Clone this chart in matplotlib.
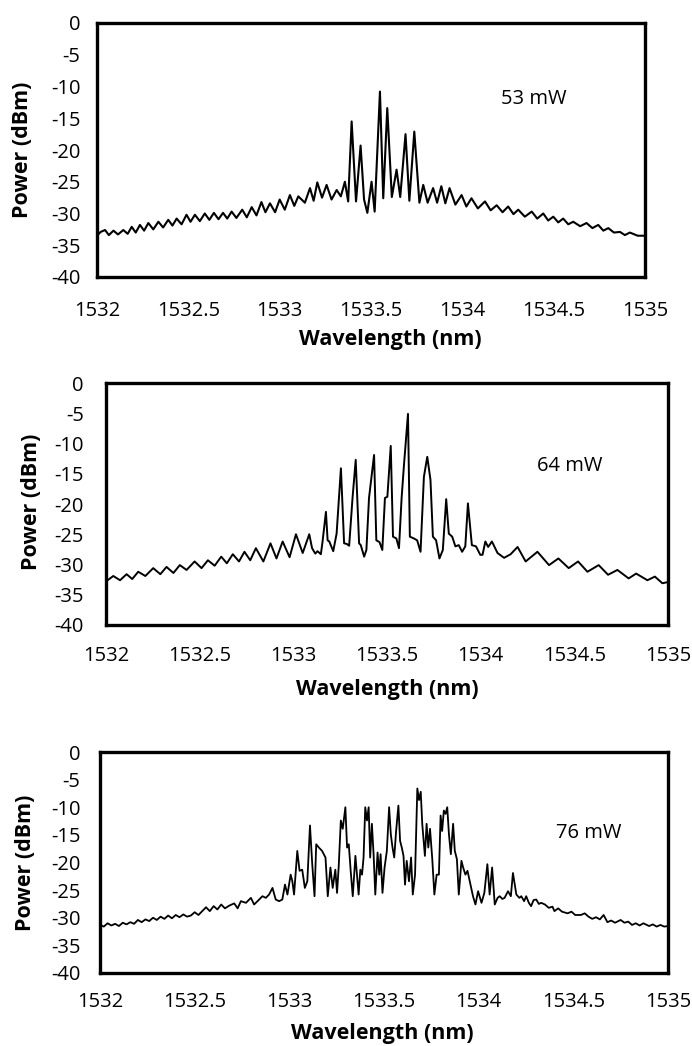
import matplotlib
matplotlib.use("Agg")
import matplotlib.pyplot as plt
from matplotlib.ticker import FixedLocator, FuncFormatter

plt.rcParams['font.family'] = ['Open Sans', 'DejaVu Sans']
plt.rcParams['axes.unicode_minus'] = False

# ---- 53 mW spectrum ----
wl_53 = [1532.000, 1532.020, 1532.044, 1532.065, 1532.090, 1532.115, 1532.144, 1532.168,
         1532.190, 1532.212, 1532.235, 1532.258, 1532.281, 1532.308, 1532.336, 1532.362,
         1532.390, 1532.413, 1532.436, 1532.463, 1532.490, 1532.512, 1532.536, 1532.563,
         1532.590, 1532.615, 1532.640, 1532.665, 1532.690, 1532.713, 1532.737, 1532.763,
         1532.795, 1532.820, 1532.847, 1532.873, 1532.900, 1532.922, 1532.947, 1532.975,
         1533.000, 1533.028, 1533.056, 1533.080, 1533.102, 1533.138, 1533.166, 1533.186,
         1533.206, 1533.232, 1533.257, 1533.284, 1533.312, 1533.335, 1533.357, 1533.375,
         1533.394, 1533.418, 1533.443, 1533.462, 1533.480, 1533.503, 1533.520, 1533.549,
         1533.567, 1533.589, 1533.614, 1533.640, 1533.660, 1533.689, 1533.710, 1533.737,
         1533.765, 1533.786, 1533.810, 1533.840, 1533.862, 1533.885, 1533.907, 1533.930,
         1533.962, 1533.996, 1534.022, 1534.050, 1534.085, 1534.124, 1534.155, 1534.188,
         1534.220, 1534.251, 1534.280, 1534.306, 1534.342, 1534.380, 1534.410, 1534.443,
         1534.470, 1534.498, 1534.525, 1534.552, 1534.580, 1534.607, 1534.645, 1534.680,
         1534.712, 1534.744, 1534.772, 1534.799, 1534.830, 1534.863, 1534.890, 1534.917,
         1534.960, 1535.000]
p_53 = [-33.5, -32.9, -32.6, -33.4, -32.7, -33.3, -32.6, -33.2,
        -32.1, -33.0, -31.8, -32.7, -31.5, -32.5, -31.3, -32.2,
        -31.0, -31.9, -30.8, -31.7, -30.2, -31.3, -30.2, -31.2,
        -30.0, -31.0, -29.9, -30.9, -29.9, -30.8, -29.7, -30.7,
        -29.4, -30.6, -29.0, -30.3, -28.2, -29.8, -28.4, -29.8,
        -27.8, -29.4, -27.1, -28.8, -27.3, -28.3, -26.0, -28.0,
        -25.1, -27.5, -25.5, -27.8, -26.3, -27.3, -25.0, -28.1,
        -15.5, -28.1, -19.3, -27.8, -29.9, -25.0, -29.7, -10.8,
        -27.6, -13.4, -27.4, -23.1, -27.4, -17.5, -28.0, -17.1,
        -28.3, -25.5, -28.3, -26.0, -28.3, -25.7, -28.4, -26.0,
        -28.6, -27.1, -28.9, -27.6, -29.2, -28.1, -29.5, -28.7,
        -29.8, -28.9, -30.1, -29.4, -30.5, -29.7, -30.8, -30.0,
        -31.1, -30.5, -31.4, -30.8, -31.7, -31.3, -32.0, -31.5,
        -32.3, -31.8, -32.7, -32.3, -33.0, -32.9, -33.4, -33.0,
        -33.5, -33.5]

# ---- 64 mW spectrum ----
wl_64 = [1532.000, 1532.039, 1532.075, 1532.110, 1532.140, 1532.172, 1532.210, 1532.252,
         1532.290, 1532.323, 1532.360, 1532.394, 1532.430, 1532.473, 1532.510, 1532.544,
         1532.580, 1532.615, 1532.645, 1532.677, 1532.710, 1532.739, 1532.770, 1532.800,
         1532.840, 1532.878, 1532.910, 1532.943, 1532.980, 1533.014, 1533.050, 1533.085,
         1533.100, 1533.117, 1533.129, 1533.147, 1533.156, 1533.174, 1533.183, 1533.192,
         1533.213, 1533.231, 1533.254, 1533.271, 1533.285, 1533.298, 1533.316, 1533.333,
         1533.351, 1533.360, 1533.378, 1533.390, 1533.404, 1533.431, 1533.443, 1533.460,
         1533.475, 1533.489, 1533.502, 1533.520, 1533.532, 1533.550, 1533.564, 1533.578,
         1533.590, 1533.612, 1533.622, 1533.644, 1533.661, 1533.679, 1533.697, 1533.715,
         1533.732, 1533.745, 1533.762, 1533.780, 1533.798, 1533.816, 1533.830, 1533.848,
         1533.865, 1533.883, 1533.901, 1533.918, 1533.932, 1533.953, 1533.975, 1533.998,
         1534.010, 1534.025, 1534.040, 1534.060, 1534.090, 1534.125, 1534.160, 1534.197,
         1534.240, 1534.303, 1534.365, 1534.415, 1534.470, 1534.520, 1534.570, 1534.630,
         1534.680, 1534.730, 1534.790, 1534.830, 1534.890, 1534.930, 1534.970, 1535.000]
p_64 = [-32.8, -31.9, -32.6, -31.6, -32.4, -31.2, -31.9, -30.6,
        -31.6, -30.4, -31.4, -30.1, -30.9, -29.5, -30.6, -29.3,
        -30.2, -28.7, -29.8, -28.3, -29.5, -27.9, -29.3, -27.3,
        -29.5, -26.5, -29.0, -26.2, -28.8, -25.0, -28.1, -25.0,
        -27.3, -28.2, -27.8, -28.3, -26.2, -21.3, -26.0, -26.2,
        -27.8, -24.9, -14.1, -26.5, -26.6, -26.9, -19.0, -12.7,
        -26.5, -26.8, -28.7, -27.6, -19.0, -11.9, -26.0, -26.3,
        -27.6, -19.0, -18.8, -10.4, -25.4, -25.7, -27.3, -19.0,
        -13.8, -5.1, -25.4, -25.7, -26.0, -27.9, -15.5, -12.2,
        -16.0, -25.4, -26.0, -29.0, -27.6, -19.2, -24.9, -25.4,
        -27.0, -26.8, -27.9, -27.0, -19.9, -26.8, -27.0, -28.4,
        -28.4, -26.2, -27.1, -26.2, -28.1, -28.9, -28.3, -27.1,
        -29.5, -27.9, -30.1, -29.0, -30.6, -29.5, -31.2, -30.1,
        -31.7, -30.9, -32.3, -31.5, -32.6, -32.0, -33.1, -32.9]

# ---- 76 mW spectrum ----
wl_76 = [1532.000, 1532.020, 1532.040, 1532.060, 1532.080, 1532.100, 1532.120, 1532.140,
         1532.160, 1532.180, 1532.200, 1532.220, 1532.240, 1532.260, 1532.280, 1532.300,
         1532.320, 1532.340, 1532.360, 1532.380, 1532.400, 1532.420, 1532.440, 1532.460,
         1532.480, 1532.500, 1532.520, 1532.540, 1532.560, 1532.580, 1532.600, 1532.620,
         1532.640, 1532.660, 1532.683, 1532.709, 1532.727, 1532.744, 1532.771, 1532.797,
         1532.814, 1532.832, 1532.858, 1532.876, 1532.893, 1532.911, 1532.928, 1532.946,
         1532.963, 1532.977, 1532.990, 1533.007, 1533.016, 1533.025, 1533.042, 1533.054,
         1533.068, 1533.082, 1533.095, 1533.109, 1533.121, 1533.133, 1533.142, 1533.156,
         1533.173, 1533.191, 1533.203, 1533.217, 1533.229, 1533.243, 1533.252, 1533.261,
         1533.272, 1533.282, 1533.296, 1533.305, 1533.314, 1533.324, 1533.335, 1533.349,
         1533.357, 1533.366, 1533.375, 1533.384, 1533.392, 1533.401, 1533.410, 1533.419,
         1533.427, 1533.436, 1533.445, 1533.454, 1533.466, 1533.475, 1533.482, 1533.492,
         1533.503, 1533.515, 1533.527, 1533.536, 1533.545, 1533.554, 1533.564, 1533.576,
         1533.585, 1533.594, 1533.603, 1533.611, 1533.620, 1533.632, 1533.643, 1533.652,
         1533.664, 1533.676, 1533.685, 1533.694, 1533.702, 1533.716, 1533.725, 1533.734,
         1533.743, 1533.755, 1533.766, 1533.778, 1533.790, 1533.799, 1533.807, 1533.816,
         1533.825, 1533.834, 1533.843, 1533.853, 1533.865, 1533.874, 1533.885, 1533.895,
         1533.909, 1533.918, 1533.930, 1533.941, 1533.953, 1533.970, 1533.983, 1533.997,
         1534.015, 1534.030, 1534.046, 1534.058, 1534.071, 1534.085, 1534.100, 1534.111,
         1534.125, 1534.137, 1534.155, 1534.170, 1534.181, 1534.199, 1534.215, 1534.225,
         1534.240, 1534.251, 1534.265, 1534.277, 1534.290, 1534.304, 1534.318, 1534.330,
         1534.350, 1534.370, 1534.390, 1534.400, 1534.420, 1534.440, 1534.470, 1534.490,
         1534.510, 1534.540, 1534.560, 1534.580, 1534.600, 1534.620, 1534.640, 1534.660,
         1534.680, 1534.700, 1534.720, 1534.750, 1534.770, 1534.790, 1534.810, 1534.830,
         1534.850, 1534.870, 1534.900, 1534.920, 1534.940, 1534.960, 1534.980, 1535.000]
p_76 = [-31.3, -31.6, -31.0, -31.4, -31.1, -31.5, -30.9, -31.2,
        -30.8, -31.1, -30.4, -30.8, -30.3, -30.6, -30.0, -30.4,
        -29.8, -30.2, -29.6, -30.1, -29.5, -29.9, -29.4, -29.8,
        -29.6, -29.0, -29.5, -28.8, -28.1, -28.8, -27.9, -28.5,
        -27.6, -28.3, -27.8, -27.4, -28.3, -27.0, -27.3, -26.4,
        -27.6, -27.0, -26.1, -26.4, -25.8, -24.6, -26.7, -27.0,
        -26.7, -24.0, -25.8, -22.2, -23.4, -25.8, -17.9, -21.5,
        -21.3, -24.6, -23.4, -13.3, -20.3, -26.1, -16.7, -17.3,
        -17.9, -19.1, -26.1, -20.9, -24.6, -21.3, -25.5, -20.6,
        -12.4, -13.9, -10.0, -17.3, -16.7, -21.5, -26.1, -18.8,
        -22.2, -25.8, -21.3, -22.2, -19.1, -10.0, -12.4, -10.0,
        -19.1, -13.0, -18.5, -25.8, -18.2, -22.2, -18.5, -25.5,
        -20.9, -17.9, -10.0, -14.9, -17.3, -19.1, -14.3, -9.7,
        -16.1, -17.3, -18.8, -24.0, -19.7, -23.4, -19.1, -25.8,
        -22.2, -6.6, -8.7, -7.2, -13.0, -18.8, -13.0, -17.3,
        -13.9, -19.4, -25.8, -22.2, -22.2, -11.5, -14.3, -10.6,
        -11.2, -10.0, -14.9, -18.5, -13.0, -17.9, -19.4, -25.8,
        -19.7, -20.9, -22.2, -21.5, -23.4, -26.1, -27.6, -25.2,
        -27.3, -25.5, -20.3, -25.8, -20.9, -27.6, -26.4, -26.1,
        -26.6, -26.4, -25.2, -26.1, -21.9, -25.8, -26.4, -26.1,
        -27.0, -26.1, -27.3, -27.9, -26.8, -26.7, -27.5, -27.3,
        -27.6, -28.2, -28.0, -28.8, -28.3, -28.9, -29.2, -28.9,
        -29.5, -29.5, -29.2, -29.8, -30.2, -29.9, -30.3, -29.5,
        -30.8, -30.5, -30.9, -30.4, -30.9, -30.7, -31.3, -31.0,
        -31.4, -31.0, -31.5, -31.2, -31.6, -31.3, -31.6, -31.5]

x_ticks = [1532, 1532.5, 1533, 1533.5, 1534, 1534.5, 1535]
y_ticks = [0, -5, -10, -15, -20, -25, -30, -35, -40]

W, H = 692, 1046
fig = plt.figure(figsize=(W / 100, H / 100), dpi=100)


def px_axes(left, right, top, bottom):
    # axes rectangle given in image pixels
    return fig.add_axes([left / W, (H - bottom) / H, (right - left) / W, (bottom - top) / H])


panels = [
    # wl, power, label, axes box (px), label xy, ypad, xpad, ylabel pos, xlabel pos, lw
    (wl_53, p_53, '53 mW', (97, 645, 23, 277), (1534.21, -12.0), 12, 17, (-0.117, 0.5), (0.535, -0.205), 1.5),
    (wl_64, p_64, '64 mW', (106, 668, 383, 625), (1534.30, -13.7), 16, 15, (-0.113, 0.51), (0.5, -0.225), 1.4),
    (wl_76, p_76, '76 mW', (100, 668, 752, 973), (1534.41, -14.6), 14, 14, (-0.112, 0.5), (0.497, -0.226), 1.3),
]

for wl, pw, lab, box, txy, ypad, xpad, ylpos, xlpos, lw in panels:
    ax = px_axes(*box)
    ax.plot(wl, pw, color='black', lw=lw, solid_joinstyle='round')
    ax.set_xlim(1532, 1535)
    ax.set_ylim(-40, 0)
    ax.xaxis.set_major_locator(FixedLocator(x_ticks))
    ax.yaxis.set_major_locator(FixedLocator(y_ticks))
    ax.xaxis.set_major_formatter(FuncFormatter(lambda v, p: '%g' % v))
    ax.yaxis.set_major_formatter(FuncFormatter(lambda v, p: '%g' % v))
    ax.tick_params(axis='y', length=0, pad=ypad, labelsize=14.5)
    ax.tick_params(axis='x', length=0, pad=xpad, labelsize=14.5)
    for s in ax.spines.values():
        s.set_linewidth(2.4)
        s.set_color('black')
    ax.set_ylabel('Power (dBm)', fontsize=15.5, fontweight='bold')
    ax.set_xlabel('Wavelength (nm)', fontsize=15.5, fontweight='bold')
    ax.yaxis.set_label_coords(*ylpos)
    ax.xaxis.set_label_coords(*xlpos)
    ax.text(txy[0], txy[1], lab, fontsize=14.5, ha='left', va='center')

fig.savefig('out.png', dpi=100)
